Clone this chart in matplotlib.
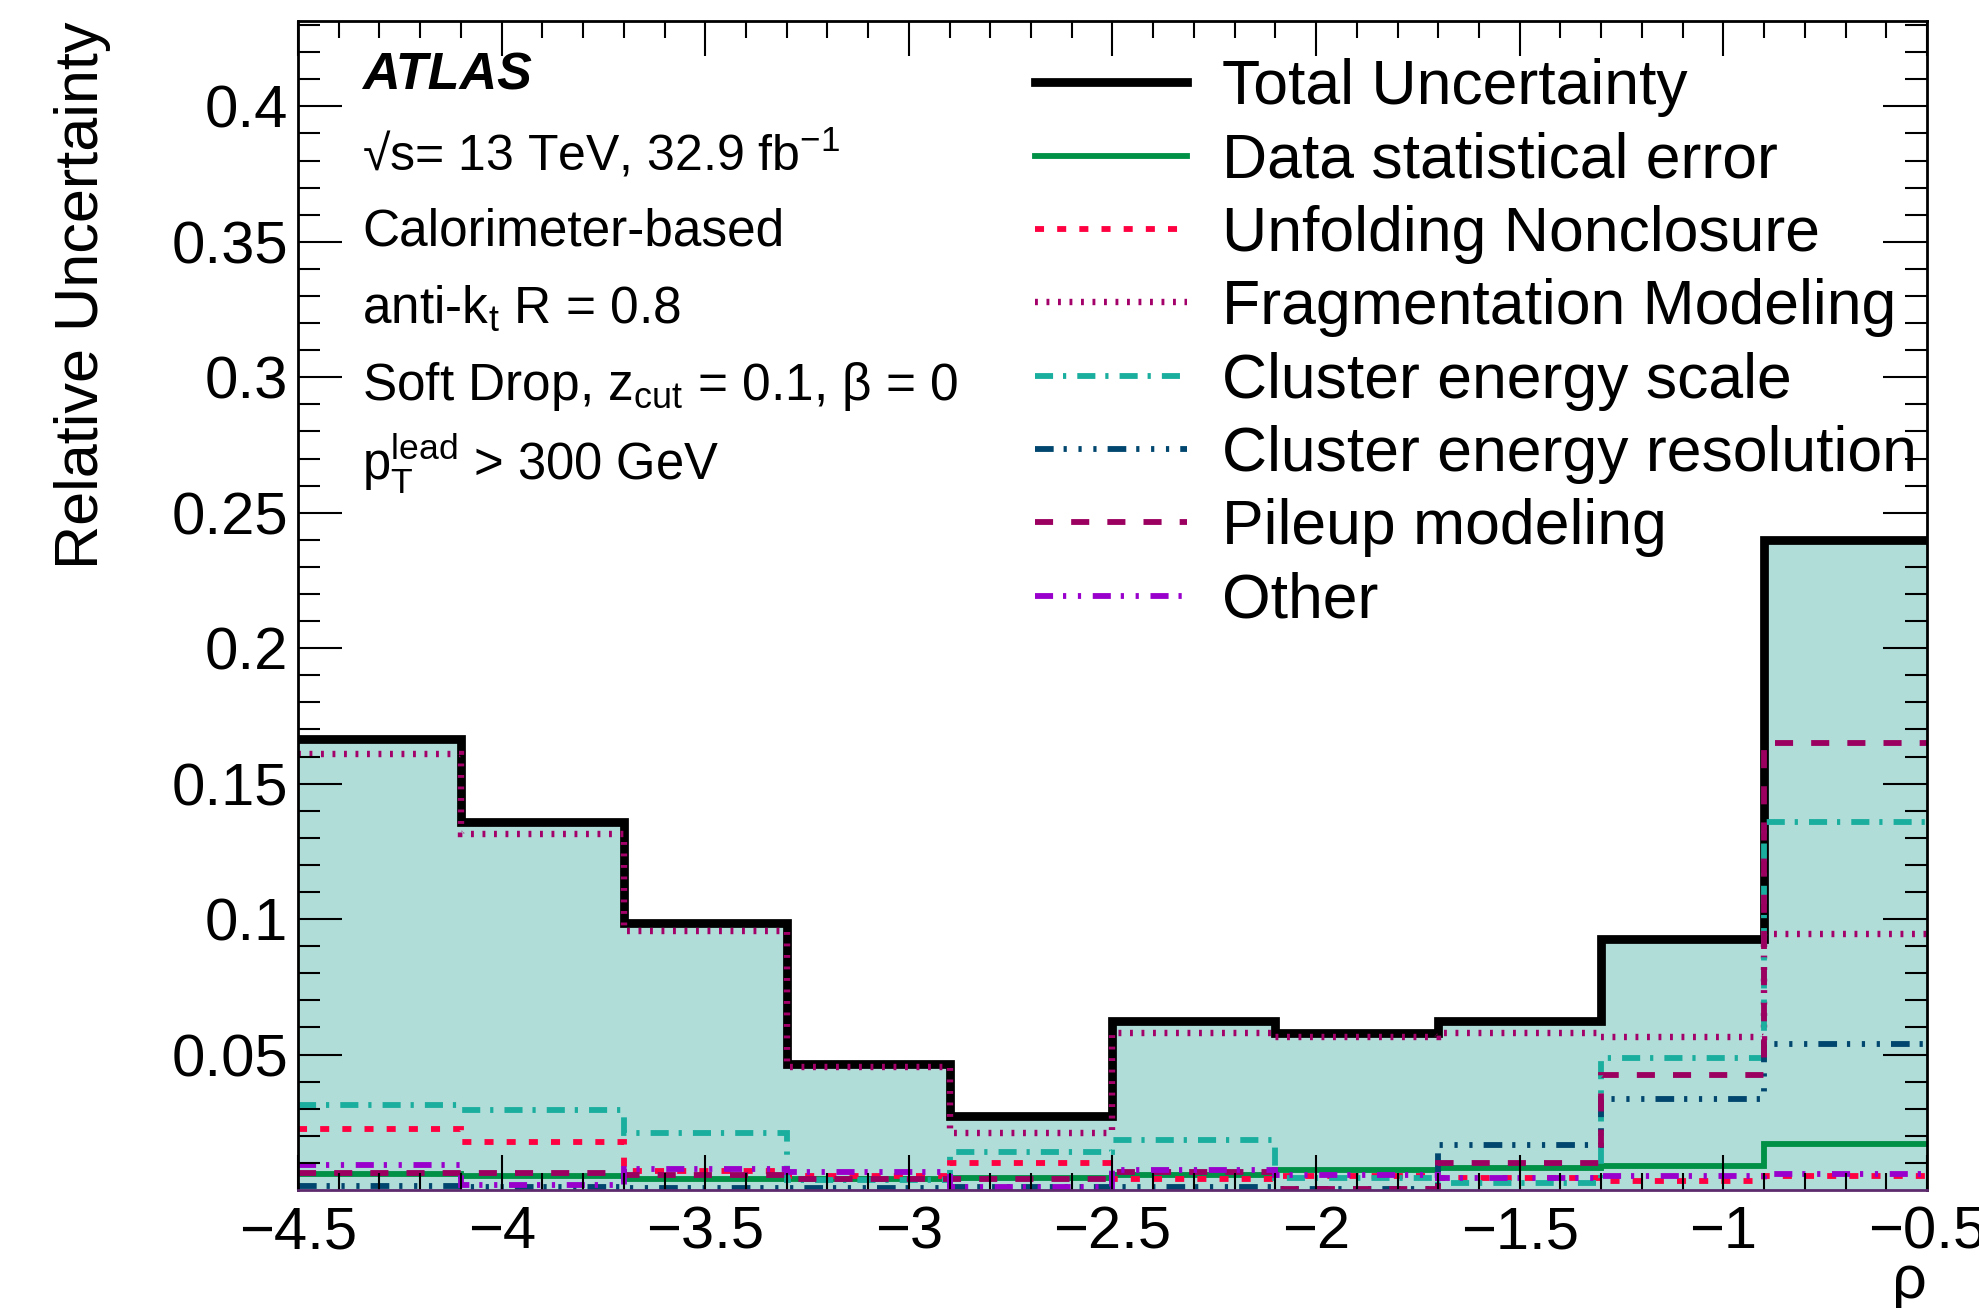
import matplotlib
matplotlib.use("Agg")
import matplotlib.pyplot as plt
import numpy as np

plt.rcParams['font.family'] = ['Liberation Sans', 'DejaVu Sans']
plt.rcParams['mathtext.fontset'] = 'custom'
plt.rcParams['mathtext.rm'] = 'Liberation Sans'
plt.rcParams['mathtext.it'] = 'Liberation Sans:italic'
plt.rcParams['mathtext.bf'] = 'Liberation Sans:bold'

# bin edges in rho
edges = [-4.5, -4.1, -3.7, -3.3, -2.9, -2.5, -2.1, -1.7, -1.3, -0.9, -0.5]

total   = [0.1665, 0.136, 0.0985, 0.0467, 0.0275, 0.0625, 0.058, 0.0625, 0.0925, 0.240]
stat    = [0.0058, 0.0050, 0.0040, 0.0040, 0.0043, 0.0057, 0.0073, 0.0082, 0.0088, 0.0170]
unfold  = [0.0225, 0.0178, 0.0072, 0.0052, 0.0100, 0.0040, 0.0052, 0.0043, 0.0034, 0.0052]
frag    = [0.1610, 0.1315, 0.0955, 0.0455, 0.0210, 0.0580, 0.0565, 0.0578, 0.0565, 0.0945]
ces     = [0.0312, 0.0295, 0.0210, 0.0037, 0.0140, 0.0185, 0.0043, 0.0025, 0.0488, 0.1360]
cer     = [0.0015, 0.0012, 0.0008, 0.0006, 0.0010, 0.0012, 0.0005, 0.0166, 0.0336, 0.0540]
pileup  = [0.0064, 0.0062, 0.0055, 0.0040, 0.0040, 0.0065, 0.0005, 0.0098, 0.0426, 0.1650]
other   = [0.0092, 0.0018, 0.0078, 0.0068, 0.0012, 0.0074, 0.0055, 0.0046, 0.0050, 0.0059]

labels = ["Total Uncertainty", "Data statistical error", "Unfolding Nonclosure",
          "Fragmentation Modeling", "Cluster energy scale", "Cluster energy resolution",
          "Pileup modeling", "Other"]

fig = plt.figure(figsize=(19.79, 13.08), dpi=100)
ax = fig.add_axes([0.1506, 0.0902, 0.8231, 0.8937])

# filled total band
ax.stairs(total, edges, fill=True, color='#b0ddd8', linewidth=0)

lw = 4.2
handles = []
handles.append(ax.stairs(total, edges, baseline=None, color='black', linewidth=6.3, label=labels[0]))
handles.append(ax.stairs(stat, edges, baseline=None, color='#009046', linewidth=lw, label=labels[1]))
handles.append(ax.stairs(unfold, edges, baseline=None, color='#ff0040', linewidth=lw,
                         linestyle=(0, (1.55, 2.25)), label=labels[2]))
handles.append(ax.stairs(frag, edges, baseline=None, color='#a3006a', linewidth=4.6,
                         linestyle=(0, (0.45, 1.35)), label=labels[3]))
handles.append(ax.stairs(ces, edges, baseline=None, color='#1aae9f', linewidth=lw,
                         linestyle=(0, (3.1, 1.7, 0.55, 1.9)), label=labels[4]))
handles.append(ax.stairs(cer, edges, baseline=None, color='#00466e', linewidth=lw,
                         linestyle=(0, (3.2, 1.7, 0.55, 2.0, 0.55, 2.0, 0.55, 1.9)), label=labels[5]))
handles.append(ax.stairs(pileup, edges, baseline=None, color='#9b0060', linewidth=lw,
                         linestyle=(0, (3.1, 3.1)), label=labels[6]))
handles.append(ax.stairs(other, edges, baseline=None, color='#9900cc', linewidth=lw,
                         linestyle=(0, (3.1, 1.7, 0.55, 2.0, 0.55, 2.0)), label=labels[7]))

ax.set_xlim(-4.5, -0.5)
ax.set_ylim(0, 0.4315)
ax.set_xticks(np.arange(-4.5, -0.49, 0.5))
ax.set_xticks(np.arange(-4.5, -0.49, 0.1), minor=True)
ax.set_yticks([0.05, 0.1, 0.15, 0.2, 0.25, 0.3, 0.35, 0.4])
ax.set_yticks(np.arange(0.01, 0.431, 0.01), minor=True)
ax.set_xticklabels(['\u22124.5', '\u22124', '\u22123.5', '\u22123', '\u22122.5', '\u22122',
                    '\u22121.5', '\u22121', '\u22120.5'])
ax.set_yticklabels(['0.05', '0.1', '0.15', '0.2', '0.25', '0.3', '0.35', '0.4'])

ax.tick_params(which='both', direction='in', top=True, right=True, width=1.5)
ax.tick_params(axis='x', which='major', length=25, labelsize=43, pad=11)
ax.tick_params(axis='x', which='minor', length=12)
ax.tick_params(axis='y', which='major', length=32, labelsize=43, pad=7)
ax.tick_params(axis='y', which='minor', length=16)
for s in ax.spines.values():
    s.set_linewidth(2)
ax.spines['bottom'].set_color('#5e2a6e')

ax.set_ylabel('Relative Uncertainty', fontsize=44, loc='top')
ax.yaxis.set_label_coords(-0.115, 1.0)
ax.set_xlabel('\u03c1', fontsize=44, loc='right')
ax.xaxis.set_label_coords(1.0, -0.055)

# ATLAS labels
tx = (362 - 298) / 1629
def ypos(p):
    return (1190 - p) / 1169
ax.text(tx, ypos(76), 'ATLAS', fontsize=37.5, fontweight='bold', fontstyle='italic',
        transform=ax.transAxes, va='center', ha='left')
ax.text(tx, ypos(154), '\u221as= 13 TeV, 32.9 fb$^{\\mathregular{-1}}$', fontsize=36,
        transform=ax.transAxes, va='center', ha='left')
ax.text(tx, ypos(232), 'Calorimeter-based', fontsize=37,
        transform=ax.transAxes, va='center', ha='left')
ax.text(tx, ypos(309), 'anti-k$_{\\mathregular{t}}$ R = 0.8', fontsize=37,
        transform=ax.transAxes, va='center', ha='left')
ax.text(tx, ypos(386), 'Soft Drop, z$_{\\mathregular{cut}}$ = 0.1, \u03b2 = 0', fontsize=37,
        transform=ax.transAxes, va='center', ha='left')
ax.text(tx, ypos(464), 'p$_{\\mathregular{T}}^{\\mathregular{lead}}$ > 300 GeV', fontsize=36.5,
        transform=ax.transAxes, va='center', ha='left')

ax.legend(handles=handles, loc='upper left', bbox_to_anchor=((1035 - 298) / 1629, ypos(58)),
          frameon=False, fontsize=45, borderpad=0, borderaxespad=0, handlelength=2.43,
          handletextpad=0.56, labelspacing=0.23)

fig.savefig('out.png', dpi=100)
